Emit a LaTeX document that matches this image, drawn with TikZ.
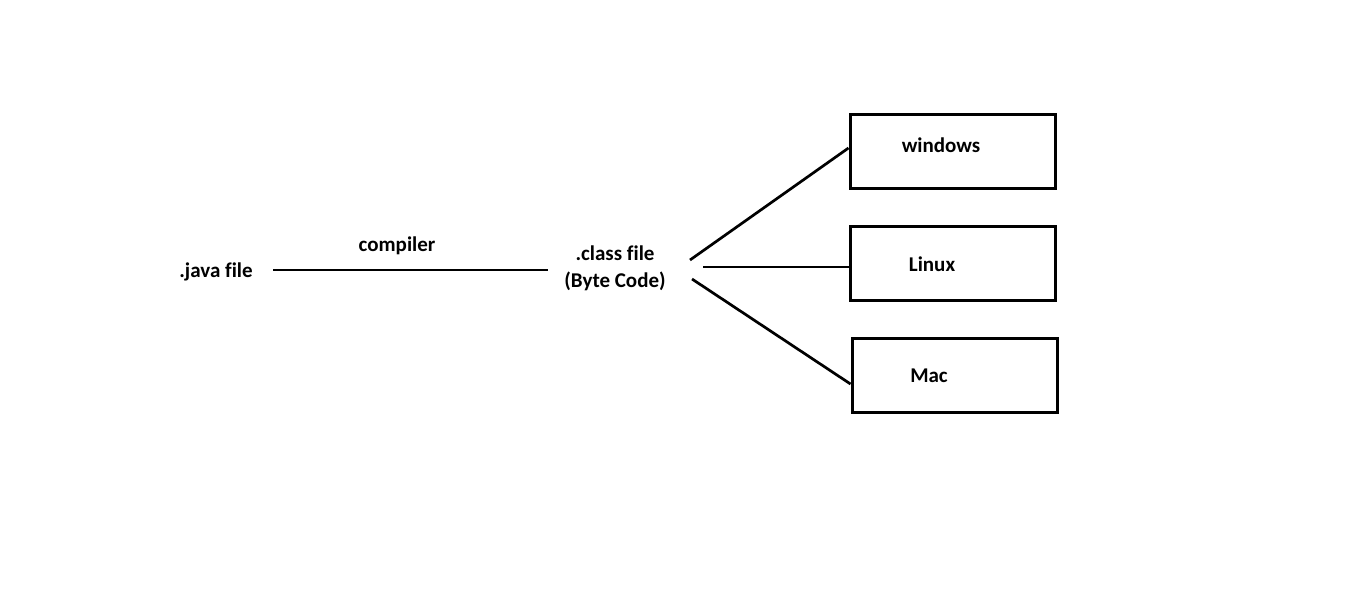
\documentclass[tikz,border=0pt]{standalone}
\usepackage{fontspec}
\setmainfont{Carlito}[Ligatures=NoCommon]
\usepackage{tikz}
\usetikzlibrary{positioning, calc}

\tikzset{
    lbl/.style={inner sep=0pt, font=\fontsize{21}{27}\selectfont\bfseries},
    osbox/.style={draw, line width=3pt, minimum width=205pt, minimum height=74pt, inner sep=0pt},
    wire/.style={line width=2.7pt}
}

\begin{document}
\begin{tikzpicture}[x=1pt, y=-1pt]
    \useasboundingbox[fill=white] (0,0) rectangle (1360,594);
    \node[lbl] (java) at (216,271.5) {.java file};
    \node[lbl] (comp) at (397,245.5) {compiler};
    \node[lbl, align=center] (cls) at (615,268.5) {.class file\\(Byte Code)};
    \node[osbox] (win) at (952.5,151) {};
    \node[osbox] (lin) at (952.5,263) {};
    \node[osbox] (mac) at (954.5,375) {};
    \node[lbl] (wintxt) at (941,145.5) {windows};
    \node[lbl] (lintxt) at (932,264.5) {Linux};
    \node[lbl] (mactxt) at (929,375.5) {Mac};
    \coordinate (j1) at (273,270);
    \coordinate (c0) at (548,270);
    \coordinate (c1) at (690,260);
    \coordinate (c2) at (703,267);
    \coordinate (c3) at (692,279);
    \draw[wire] (j1) -- (c0);
    \draw[wire] (c1) -- ([yshift=3pt]win.west);
    \draw[wire] (c2) -- ([yshift=-4pt]lin.west);
    \draw[wire] (c3) -- ([yshift=-9pt]mac.west);
\end{tikzpicture}
\end{document}
